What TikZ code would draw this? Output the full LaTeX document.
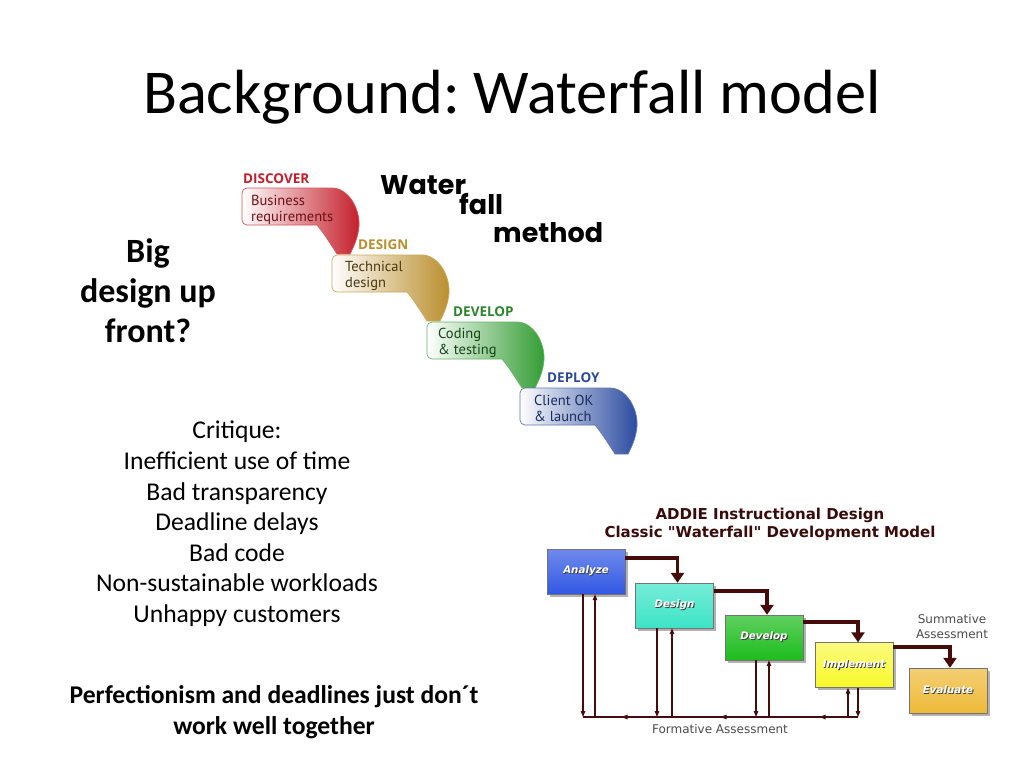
\documentclass[tikz,border=0pt]{standalone}
\usepackage{fontspec}
\setmainfont{Carlito}
\newfontfamily\wffont{PT Sans}
\newfontfamily\wflabel{Open Sans}
\newfontfamily\wfbig{Poppins}
\newfontfamily\addiefont{DejaVu Sans}
\usepackage{tikz}
\usetikzlibrary{arrows.meta, positioning, calc, shadows,
                decorations.markings}
\definecolor{WFRed}     {RGB}{196,  30,  42}
\definecolor{WFGold}    {RGB}{186, 142,  44}
\definecolor{WFGreen}   {RGB}{ 50, 156,  50}
\definecolor{WFBlue}    {RGB}{ 42,  74, 160}
\definecolor{ADMaroon}  {RGB}{ 70,  12,  12}
\definecolor{ADBlue}    {RGB}{ 50,  88, 228}
\definecolor{ADCyan}    {RGB}{ 60, 228, 198}
\definecolor{ADGreen}   {RGB}{ 28, 188,  28}
\definecolor{ADYellow}  {RGB}{248, 248,  40}
\definecolor{ADOrange}  {RGB}{238, 186,  56}

\newcommand{\wfstep}[3]{%
  \begin{scope}[shift={(#1,#2)}]
    \path[draw=#3!75, line width=0.7pt, left color=white,
          middle color=#3!22, right color=#3]
      [rounded corners=5pt] (0,18) -- (0,0) -- (85,0)
      [sharp corners] .. controls (106,0) and (118,20) .. (117,38)
      .. controls (116,50) and (112,58) .. (108,66) -- (95,66)
      .. controls (88,55) and (81,44) .. (75,37)
      [rounded corners=5pt] -- (0,37) -- cycle;
  \end{scope}}

\newcommand{\shtext}[1]{%
  \makebox[0pt][l]{\raisebox{-0.9pt}{\hspace{0.9pt}\textcolor{black!75}{#1}}}#1}

\frenchspacing
\begin{document}
\begin{tikzpicture}[x=1pt, y=-1pt,
    stepname/.style={anchor=base west, inner sep=0pt,
                     font=\wflabel\bfseries\fontsize{13.5}{16}\selectfont},
    steptext/.style={anchor=base west, align=left, inner sep=0pt,
                     font=\wffont\fontsize{14.5}{16}\selectfont},
    bigword/.style={anchor=base west, inner sep=0pt,
                    font=\wfbig\bfseries\fontsize{27}{32}\selectfont},
    phase/.style={draw=black!55, minimum width=78pt, minimum height=45pt,
                  inner sep=0pt, text=white,
                  drop shadow={shadow xshift=2.5pt, shadow yshift=-2.5pt,
                               fill=black!60},
                  font=\addiefont\bfseries\itshape\fontsize{10.3}{12}\selectfont},
    flow/.style={draw=ADMaroon, line width=3.8pt,
                 -{Triangle[width=13pt, length=10pt]}},
    fback/.style={draw=ADMaroon, line width=1.1pt,
                  -{Triangle[width=4.5pt, length=6pt]}},
    addienote/.style={align=center, text=black!70,
                      font=\addiefont\fontsize{12}{15}\selectfont}]
  \useasboundingbox[fill=white] (0,0) rectangle (1024,768);

  \node[font=\fontsize{62.4}{72}\selectfont] (title) at (512,97)
    {Background: Waterfall model};

  \node[align=center, font=\bfseries\fontsize{34}{40}\selectfont]
    (bduf) at (148,291) {Big\\design up\\front?};
  \node[align=center, font=\fontsize{25.6}{30.6}\selectfont]
    (critique) at (237,524) {Critique:\\Inefficient use of time\\
    Bad transparency\\Deadline delays\\Bad code\\
    Non-sustainable workloads\\Unhappy customers};
  \node[align=center, font=\bfseries\fontsize{25.6}{31}\selectfont]
    (moral) at (274,712) {Perfectionism and deadlines just don´t\\
    work well together};

  \begin{scope}
    \clip (200,150) rectangle (660,457);
    \wfstep{242}{188}{WFRed}
    \wfstep{332}{255}{WFGold}
    \wfstep{427}{322}{WFGreen}
    \wfstep{520}{388}{WFBlue}
  \end{scope}
  \node[stepname, text=WFRed] (discover) at (243,183) {DISCOVER};
  \node[stepname, text=WFGold] (design) at (358,249) {DESIGN};
  \node[stepname, text=WFGreen!85!black] (develop) at (453,316) {DEVELOP};
  \node[stepname, text=WFBlue] (deploy) at (547,382) {DEPLOY};
  \node[steptext, text=WFRed!55!black] (bizreq) at (251,221)
    {Business\\requirements};
  \node[steptext, text=WFGold!40!black] (techdes) at (345,287)
    {Technical\\design};
  \node[steptext, text=WFGreen!45!black] (coding) at (438,354)
    {Coding\\\& testing};
  \node[steptext, text=WFBlue!60!black] (client) at (534,421)
    {Client OK\\\& launch};
  \node[bigword] (water) at (380,194) {Water};
  \node[bigword] (fall) at (459,214) {fall};
  \node[bigword] (method) at (493,242) {method};

  \node[align=center, text=ADMaroon!85!black,
        font=\addiefont\bfseries\fontsize{15}{18}\selectfont]
    (addie) at (770,524)
    {ADDIE Instructional Design\\Classic "Waterfall" Development Model};

  \node[phase, top color=ADBlue!70!white, bottom color=ADBlue]
    (anlz) at (586,571.5) {\shtext{Analyze}};
  \node[phase, top color=ADCyan!70!white, bottom color=ADCyan]
    (dsgn) at (674.5,605.5) {\shtext{Design}};
  \node[phase, top color=ADGreen!70!white, bottom color=ADGreen]
    (dvlp) at (764,637.5) {\shtext{Develop}};
  \node[phase, top color=ADYellow!60!white, bottom color=ADYellow]
    (impl) at (854,665) {\shtext{Implement}};
  \node[phase, top color=ADOrange!70!white, bottom color=ADOrange]
    (eval) at (948,690.5) {\shtext{Evaluate}};

  \draw[flow] ([yshift=-9pt]anlz.north east) -| ([xshift=3pt]dsgn.north);
  \draw[flow] ([yshift=-8pt]dsgn.north east) -| ([xshift=3pt]dvlp.north);
  \draw[flow] ([yshift=-7pt]dvlp.north east) -| ([xshift=4pt]impl.north);
  \draw[flow] ([yshift=-5pt]impl.north east) -| ([xshift=2pt]eval.north);

  \coordinate (fleft) at (583,717);
  \coordinate (fright) at (858,717);
  \foreach \nd/\dx in {anlz/-3, dsgn/-17.5, dvlp/-8, impl/4} {
    \path ([xshift=\dx pt]\nd.south) coordinate (ftop);
    \draw[fback] (ftop) -- (ftop |- fleft);
  }
  \foreach \nd/\dx in {anlz/9, dsgn/-2.5, dvlp/5, impl/-6} {
    \path ([xshift=\dx pt]\nd.south) coordinate (ftop);
    \draw[fback] (ftop |- fleft) -- (ftop);
  }
  \draw[draw=ADMaroon, line width=1.1pt, postaction={decorate},
        decoration={markings,
          mark=at position 0.14 with {\arrow{Triangle[width=4.5pt, length=6pt]}},
          mark=at position 0.5 with {\arrow{Triangle[width=4.5pt, length=6pt]}},
          mark=at position 0.86 with {\arrow{Triangle[width=4.5pt, length=6pt]}}}]
    (fright) -- (fleft);

  \node[addienote] (formative) at (720,729) {Formative Assessment};
  \node[addienote] (summative) at (952,627) {Summative\\Assessment};
\end{tikzpicture}
\end{document}
